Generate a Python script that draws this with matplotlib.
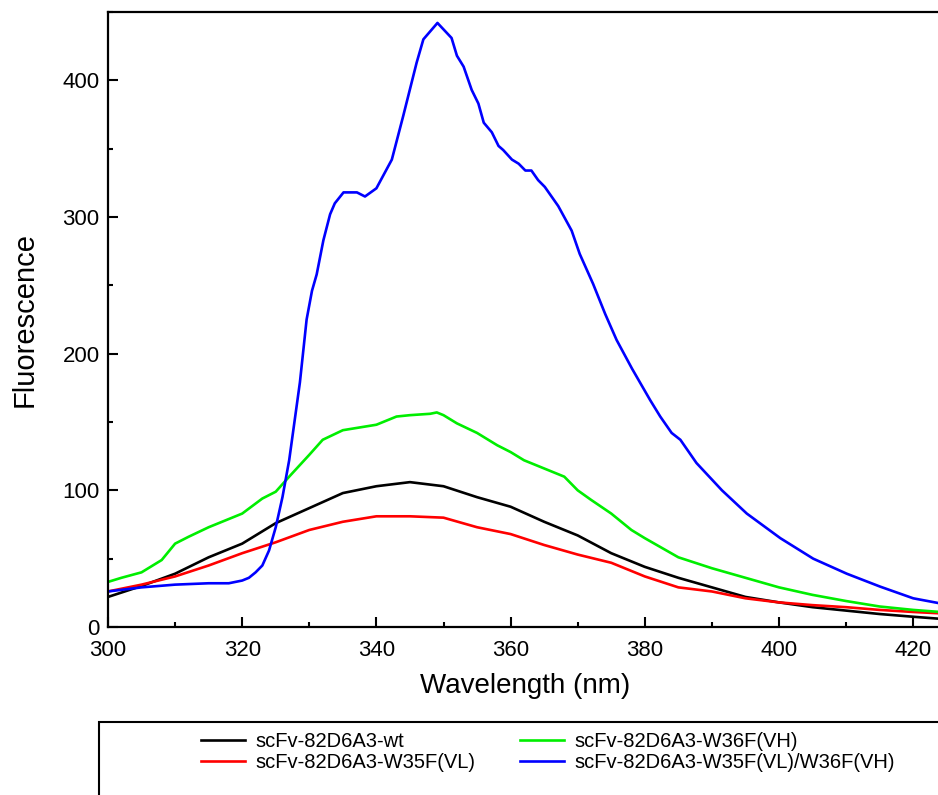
import matplotlib
matplotlib.use("Agg")
import matplotlib.pyplot as plt
from matplotlib.patches import Rectangle
from matplotlib.ticker import MultipleLocator

plt.rcParams["font.family"] = ["Liberation Sans", "DejaVu Sans"]

# wild type
wl_wt = [300, 305, 310, 315, 320, 325, 330, 335, 340, 345, 350, 355, 360, 365,
         370, 375, 380, 385, 390, 395, 400, 405, 410, 415, 420, 424]
fl_wt = [22, 30, 39, 51, 61, 76, 87, 98, 103, 106, 103, 95, 88, 77,
         67, 54, 44, 36, 29, 22, 18, 14.5, 12, 9.5, 7.5, 6]

# W35F(VL)
wl_vl = [300, 305, 310, 315, 320, 325, 330, 335, 340, 345, 350, 355, 360, 365,
         370, 375, 380, 385, 390, 395, 400, 405, 410, 415, 420, 424]
fl_vl = [26, 31, 37, 45, 54, 62, 71, 77, 81, 81, 80, 73, 68, 60,
         53, 47, 37, 29, 26, 21, 18, 16, 14.5, 12.5, 11, 10]

# W36F(VH)
wl_vh = [300, 302, 305, 308, 310, 312, 315, 320, 323, 325, 327, 330, 332, 335,
         340, 343, 345, 348, 349, 350, 352, 355, 358, 360, 362, 365, 368, 370,
         372, 375, 378, 380, 385, 390, 395, 400, 405, 410, 415, 420, 424]
fl_vh = [33, 36, 40, 49, 61, 66, 73, 83, 94, 99, 110, 126, 137, 144,
         148, 154, 155, 156, 157, 155, 149, 142, 133, 128, 122, 116, 110, 100,
         93, 83, 71, 65, 51, 43, 36, 29, 23.5, 19, 15, 12.5, 11]

# W35F(VL)/W36F(VH)
wl_dbl = [300, 305, 310, 315, 318, 320, 321, 322, 323, 324, 325, 326, 327, 328.6,
          329.6, 330.4, 331.1, 332.1, 333.1, 333.8, 335.1, 337.1, 338.3, 340.0,
          342.3, 344.0, 346.0, 347.0, 349.1, 351.2, 352.0, 353.0, 354.2, 355.2,
          356.0, 357.2, 358.2, 358.9, 360.2, 361.2, 362.2, 363.1, 364.1, 365.1,
          367.1, 369.1, 370.3, 372.3, 374.1, 375.8, 378.1, 380.8, 382.3, 384.0,
          385.3, 387.7, 391.5, 395.2, 400.2, 405.1, 410.1, 415.1, 420.0, 424]
fl_dbl = [26, 29, 31, 32, 32, 34, 36, 40, 45, 56, 73, 95, 122, 179,
          225, 246, 258, 283, 302, 310, 318, 318, 315, 321,
          342, 374, 413, 430, 442, 431, 418, 410, 393, 383,
          369, 362, 352, 349, 342, 339, 334, 334, 327, 322,
          308, 290, 273, 251, 229, 210, 189, 166, 154, 142,
          137, 120, 100, 83, 65, 50, 39, 29.5, 21, 17.3]

labels = ["scFv-82D6A3-wt", "scFv-82D6A3-W35F(VL)",
          "scFv-82D6A3-W36F(VH)", "scFv-82D6A3-W35F(VL)/W36F(VH)"]
colors = ["black", "#ff0000", "#00ee00", "#0000ff"]

fig = plt.figure(figsize=(9.38, 7.95), dpi=100)
ax = fig.add_axes([108 / 938, 1 - 627 / 795, 830 / 938, 615 / 795])

lines = []
for wl, fl, lab, col in zip([wl_wt, wl_vl, wl_vh, wl_dbl],
                            [fl_wt, fl_vl, fl_vh, fl_dbl], labels, colors):
    ln, = ax.plot(wl, fl, color=col, lw=1.9, label=lab)
    lines.append(ln)

ax.set_xlim(300, 300 + 830 / 6.71)
ax.set_ylim(0, 450)
ax.xaxis.set_major_locator(MultipleLocator(20))
ax.xaxis.set_minor_locator(MultipleLocator(10))
ax.yaxis.set_major_locator(MultipleLocator(100))
ax.yaxis.set_minor_locator(MultipleLocator(50))
ax.tick_params(which="both", direction="in", width=1.5, labelsize=16)
ax.tick_params(which="major", length=7)
ax.tick_params(which="minor", length=3.5)
ax.tick_params(axis="x", pad=9)
ax.tick_params(axis="y", pad=6)
ax.spines["right"].set_visible(False)
for s in ["left", "bottom", "top"]:
    ax.spines[s].set_linewidth(1.6)

ax.set_xlabel("Wavelength (nm)", fontsize=20)
ax.xaxis.set_label_coords(0.502, -0.075)
ax.set_ylabel("Fluorescence", fontsize=21)
ax.yaxis.set_label_coords(-0.083, 0.5)

# legend box runs off the bottom/right of the picture
fig.add_artist(Rectangle((99 / 938, -0.1), 1.0, 0.1 + 1 - 722 / 795,
                         transform=fig.transFigure, fill=False, lw=1.5,
                         edgecolor="black", clip_on=False))
fig.legend(handles=lines, ncol=2, loc="upper left",
           bbox_to_anchor=(201 / 938, 1 - 732 / 795), frameon=False,
           fontsize=14.5, borderpad=0, borderaxespad=0, handlelength=2.2,
           handletextpad=0.5, columnspacing=2.2, labelspacing=0.09)

fig.savefig("out.png", dpi=100)
